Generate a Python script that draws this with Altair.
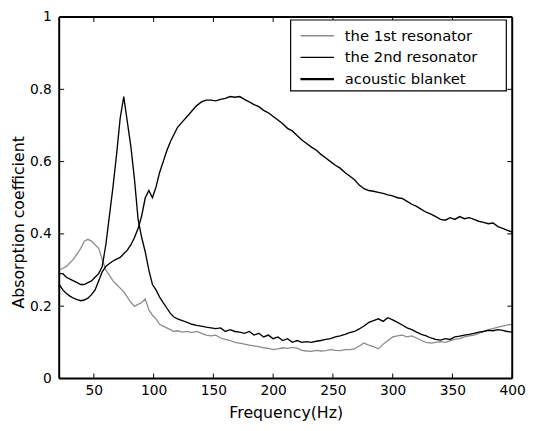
import altair as alt
import pandas as pd

freq = [21, 24, 27, 30, 33, 36, 39, 42, 45, 48, 51, 54, 57, 60, 63, 66, 69, 72, 75, 78,
        81, 84, 87, 90, 93, 96, 99, 102, 105, 108, 111, 114, 117, 120,
        124, 128, 132, 136, 140, 144, 148, 152, 156, 160, 164, 168, 172, 176, 180, 184,
        188, 192, 196, 200, 204, 208, 212, 216, 220, 224, 228, 232, 236, 240, 244, 248,
        252, 256, 260, 264, 268, 272, 276, 280, 284, 288, 292, 296, 300, 304, 308, 312,
        316, 320, 324, 328, 332, 336, 340, 344, 348, 352, 356, 360, 364, 368, 372, 376,
        380, 384, 388, 392, 396, 400]

res1 = [0.30, 0.305, 0.31, 0.32, 0.33, 0.345, 0.36, 0.38, 0.385, 0.38, 0.37, 0.36, 0.33, 0.30,
        0.285, 0.27, 0.26, 0.25, 0.24, 0.225, 0.21, 0.20, 0.205, 0.21, 0.22, 0.19, 0.175,
        0.165, 0.15, 0.145, 0.14, 0.135, 0.13, 0.132,
        0.128, 0.13, 0.127, 0.13, 0.125, 0.12, 0.118, 0.12, 0.112, 0.108, 0.105, 0.10, 0.098,
        0.095, 0.092, 0.09, 0.088, 0.085, 0.083, 0.08, 0.082, 0.085, 0.083, 0.086, 0.084,
        0.078, 0.076, 0.075, 0.078, 0.076, 0.077, 0.08, 0.078, 0.077, 0.08, 0.08, 0.082,
        0.09, 0.098, 0.092, 0.088, 0.082, 0.095, 0.105, 0.115, 0.118, 0.12, 0.115, 0.118,
        0.112, 0.105, 0.10, 0.098, 0.10, 0.102, 0.10, 0.104, 0.108, 0.11, 0.115, 0.118,
        0.12, 0.125, 0.13, 0.135, 0.138, 0.142, 0.145, 0.148, 0.15]

res2 = [0.29, 0.29, 0.28, 0.275, 0.27, 0.265, 0.26, 0.26, 0.265, 0.27, 0.28, 0.29, 0.31,
        0.37, 0.45, 0.53, 0.62, 0.72, 0.78, 0.71, 0.64, 0.55, 0.44, 0.39, 0.35, 0.30, 0.26,
        0.245, 0.225, 0.21, 0.195, 0.18, 0.17, 0.165,
        0.16, 0.155, 0.15, 0.147, 0.145, 0.142, 0.14, 0.138, 0.14, 0.13, 0.135, 0.13, 0.128,
        0.125, 0.13, 0.12, 0.125, 0.115, 0.12, 0.11, 0.115, 0.105, 0.11, 0.10, 0.105, 0.10,
        0.102, 0.10, 0.103, 0.105, 0.108, 0.11, 0.115, 0.118, 0.122, 0.127, 0.13, 0.137,
        0.145, 0.155, 0.16, 0.165, 0.158, 0.168, 0.162, 0.155, 0.148, 0.14, 0.135, 0.128,
        0.122, 0.118, 0.112, 0.108, 0.106, 0.11, 0.108, 0.115, 0.117, 0.12, 0.122, 0.125,
        0.128, 0.13, 0.133, 0.132, 0.135, 0.133, 0.13, 0.128]

blanket = [0.26, 0.245, 0.235, 0.228, 0.222, 0.218, 0.215, 0.217, 0.222, 0.232, 0.245, 0.27,
           0.295, 0.31, 0.318, 0.325, 0.33, 0.335, 0.345, 0.355, 0.37, 0.39, 0.415, 0.45,
           0.50, 0.52, 0.50, 0.53, 0.57, 0.60, 0.63, 0.655, 0.675, 0.695,
           0.71, 0.725, 0.74, 0.755, 0.765, 0.77, 0.77, 0.768, 0.772, 0.775, 0.78, 0.778,
           0.78, 0.772, 0.765, 0.758, 0.752, 0.742, 0.735, 0.725, 0.715, 0.705, 0.692, 0.685,
           0.672, 0.66, 0.65, 0.64, 0.632, 0.62, 0.61, 0.60, 0.59, 0.582, 0.57, 0.56, 0.55,
           0.535, 0.525, 0.52, 0.518, 0.515, 0.512, 0.508, 0.505, 0.50, 0.498, 0.49, 0.482,
           0.476, 0.468, 0.46, 0.455, 0.448, 0.44, 0.438, 0.445, 0.44, 0.448, 0.442, 0.445,
           0.44, 0.435, 0.432, 0.428, 0.43, 0.42, 0.415, 0.41, 0.405]

series_names = ["the 1st resonator", "the 2nd resonator", "acoustic blanket"]
series_colors = ["#8c8c8c", "#000000", "#000000"]
series_widths = [1.3, 1.4, 2.4]
x_ticks = [50, 100, 150, 200, 250, 300, 350, 400]
y_ticks = [0, 0.2, 0.4, 0.6, 0.8, 1.0]

rows = []
for name, vals in zip(series_names, [res1, res2, blanket]):
    for f, v in zip(freq, vals):
        rows.append({"freq": f, "val": v, "series": name})
df = pd.DataFrame(rows)

W, H = 460, 367
FONT = "DejaVu Sans"
xscale = alt.Scale(domain=[21, 400], nice=False, zero=False)
yscale = alt.Scale(domain=[0, 1], nice=False)

lines = alt.Chart(df).mark_line(interpolate="linear").encode(
    x=alt.X("freq:Q", scale=xscale,
            axis=alt.Axis(values=x_ticks, title="Frequency(Hz)", ticks=False, domain=False,
                          grid=False, labelPadding=5, labelFont=FONT, labelFontSize=14,
                          labelColor="black", titleFont=FONT, titleFontSize=16,
                          titleFontWeight="normal", titleColor="black", titlePadding=8,
                          labelFlush=False)),
    y=alt.Y("val:Q", scale=yscale,
            axis=alt.Axis(values=y_ticks, format=".1~f", title="Absorption coefficient",
                          ticks=False, domain=False, grid=False, labelPadding=8,
                          labelFont=FONT, labelFontSize=14, labelColor="black",
                          titleFont=FONT, titleFontSize=16, titleFontWeight="normal",
                          titleColor="black", titleX=-33, titleY=208, labelFlush=False)),
    color=alt.Color("series:N", scale=alt.Scale(domain=series_names, range=series_colors),
                    legend=None),
    strokeWidth=alt.StrokeWidth("series:N",
                                scale=alt.Scale(domain=series_names, range=series_widths),
                                legend=None),
)

xt = pd.DataFrame({"t": x_ticks})
yt = pd.DataFrame({"t": y_ticks})
tick_bottom = alt.Chart(xt).mark_rule(color="black", strokeWidth=1).encode(
    x=alt.X("t:Q", scale=xscale), y=alt.value(H), y2=alt.value(H - 5))
tick_top = alt.Chart(xt).mark_rule(color="black", strokeWidth=1).encode(
    x=alt.X("t:Q", scale=xscale), y=alt.value(0), y2=alt.value(5))
tick_left = alt.Chart(yt).mark_rule(color="black", strokeWidth=1).encode(
    y=alt.Y("t:Q", scale=yscale), x=alt.value(0), x2=alt.value(5))
tick_right = alt.Chart(yt).mark_rule(color="black", strokeWidth=1).encode(
    y=alt.Y("t:Q", scale=yscale), x=alt.value(W), x2=alt.value(W - 5))

one = pd.DataFrame({"k": [0]})
frame_layers = [
    alt.Chart(one).mark_rule(color="black", strokeWidth=2).encode(
        x=alt.value(0), x2=alt.value(W), y=alt.value(0)),
    alt.Chart(one).mark_rule(color="black", strokeWidth=2).encode(
        x=alt.value(0), x2=alt.value(W), y=alt.value(H)),
    alt.Chart(one).mark_rule(color="black", strokeWidth=2).encode(
        x=alt.value(0), y=alt.value(0), y2=alt.value(H)),
    alt.Chart(one).mark_rule(color="black", strokeWidth=2).encode(
        x=alt.value(W), y=alt.value(0), y2=alt.value(H)),
]

# manual legend box (MATLAB style)
LX0, LX1, LY0, LY1 = 235, 454, 3, 75
leg_box = alt.Chart(one).mark_rect(
    fill="white", stroke="black", strokeWidth=1.2).encode(
    x=alt.value(LX0), x2=alt.value(LX1), y=alt.value(LY0), y2=alt.value(LY1))
leg_layers = [leg_box]
row_y = [19, 41, 63]
for name, col, sw, ry in zip(series_names, series_colors, series_widths, row_y):
    d = pd.DataFrame({"series": [name]})
    leg_layers.append(alt.Chart(d).mark_rule(color=col, strokeWidth=sw).encode(
        x=alt.value(245), x2=alt.value(279), y=alt.value(ry)))
    leg_layers.append(alt.Chart(d).mark_text(
        align="left", baseline="middle", font=FONT, fontSize=15, color="black").encode(
        x=alt.value(290), y=alt.value(ry), text="series:N"))

chart = alt.layer(lines, tick_bottom, tick_top, tick_left, tick_right, *frame_layers,
                  *leg_layers).properties(
    width=W, height=H,
    background="white",
    autosize=alt.AutoSizeParams(type="none"),
    padding={"left": 52, "top": 6, "right": 15, "bottom": 40},
).configure_view(stroke=None)

chart.save("out.html", embed_options={"renderer": "svg", "actions": False})
